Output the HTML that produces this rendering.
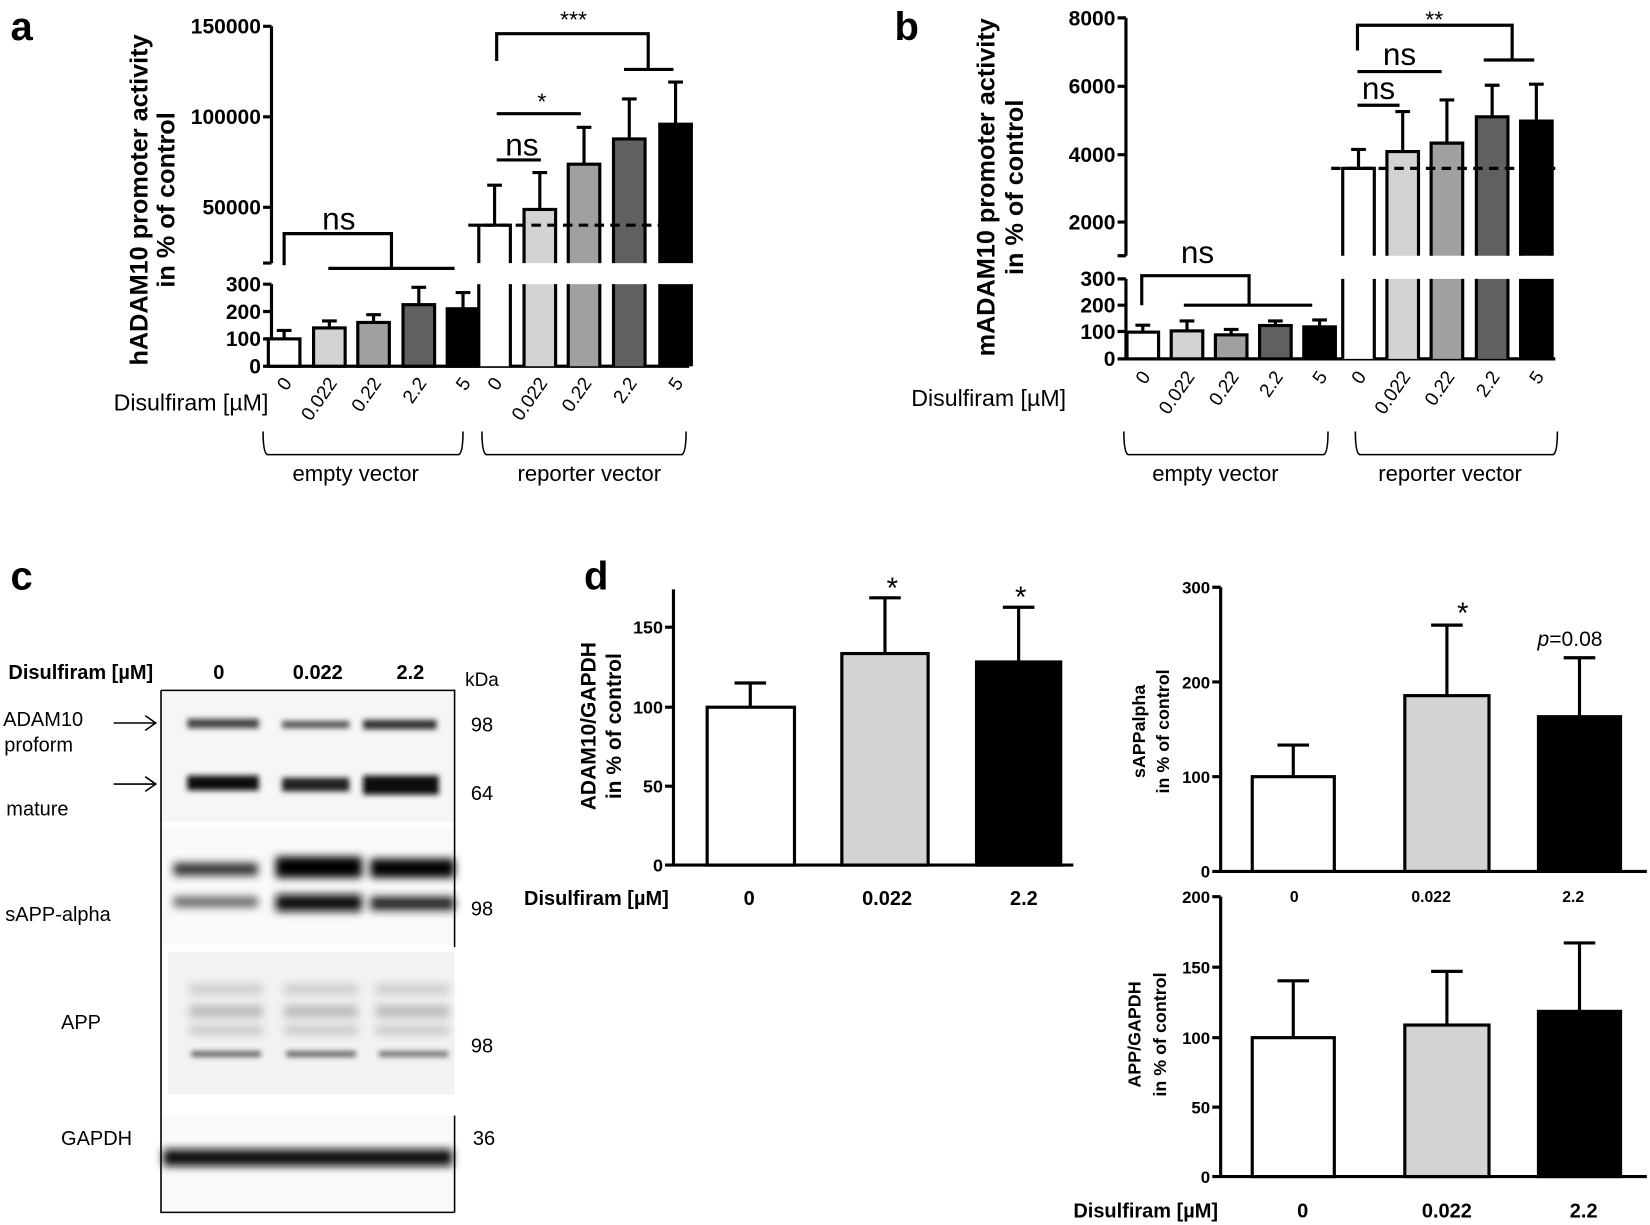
<!DOCTYPE html>
<html><head><meta charset="utf-8"><style>
html,body{margin:0;padding:0;background:#fff;}
svg{display:block;}
text{font-family:"Liberation Sans",sans-serif;fill:#000;}
</style></head><body>
<svg width="1650" height="1225" viewBox="0 0 1568 1164" preserveAspectRatio="none" xmlns="http://www.w3.org/2000/svg">
<defs>
<filter id="bl" x="-20%" y="-100%" width="140%" height="300%"><feGaussianBlur stdDeviation="4"/></filter>
<filter id="bl2" x="-20%" y="-100%" width="140%" height="300%"><feGaussianBlur stdDeviation="2.5"/></filter>
</defs>
<g stroke="#000" stroke-width="3" fill="none">
<path d="M258,25 V250 M250,25 H258 M250,111 H258 M250,197 H258 M250,250 H258"/>
<path d="M258,270 V348 H655 M250,270 H258 M250,296 H258 M250,322 H258 M250,348 H258"/>
<rect x="255" y="322" width="30" height="26" fill="#fff"/>
<rect x="298" y="311.6" width="30" height="36.4" fill="#d3d3d3"/>
<rect x="340" y="306.4" width="30" height="41.6" fill="#a0a0a0"/>
<rect x="383" y="289.5" width="30" height="58.5" fill="#606060"/>
<rect x="425" y="293.4" width="30" height="54.6" fill="#000"/>
<path d="M270,322 V314 M263,314 H277 M313,311 V305 M306,305 H320 M355,306 V299 M348,299 H362 M398,289 V273 M391,273 H405 M440,293 V278 M433,278 H447"/>
<path d="M455,250 V214 H485 V250" fill="#fff"/>
<path d="M498,250 V199 H528 V250" fill="#d3d3d3"/>
<path d="M540,250 V156 H570 V250" fill="#a0a0a0"/>
<path d="M583,250 V132 H613 V250" fill="#606060"/>
<path d="M627,250 V118 H657 V250" fill="#000"/>
<rect x="455" y="270" width="30" height="78" fill="#fff" stroke="none"/>
<rect x="498" y="270" width="30" height="78" fill="#d3d3d3" stroke="none"/>
<rect x="540" y="270" width="30" height="78" fill="#a0a0a0" stroke="none"/>
<rect x="583" y="270" width="30" height="78" fill="#606060" stroke="none"/>
<rect x="627" y="270" width="30" height="78" fill="#000" stroke="none"/>
<path d="M455,270 V348 M485,270 V348 M498,270 V348 M528,270 V348 M540,270 V348 M570,270 V348 M583,270 V348 M613,270 V348 M627,270 V348 M657,270 V348"/>
<path d="M470,214 V176 M463,176 H477 M513,199 V164 M506,164 H520 M555,156 V121 M548,121 H562 M598,132 V94 M591,94 H605 M642,118 V78 M635,78 H649"/>
<path d="M445,214 H655" stroke-dasharray="9,6"/>
<path d="M270,252 V222 H372 V255 M312,255 H432"/>
<path d="M472,58 V32 H616 V66 M593,66 H640"/>
<path d="M472,108 H552"/>
<path d="M472,152 H514"/>
<path d="M250,410 Q250,430 254,432 H436 Q440,430 440,410" stroke-width="1.5"/>
<path d="M458,410 Q458,430 462,432 H648 Q652,430 652,410" stroke-width="1.5"/>

<path d="M1070,17 V243 M1062,17 H1070 M1062,82 H1070 M1062,147 H1070 M1062,211 H1070 M1062,243 H1070"/>
<path d="M1070,265 V341 H1478 M1062,265 H1070 M1062,290 H1070 M1062,315 H1070 M1062,341 H1070"/>
<rect x="1071" y="315.6" width="30" height="25.4" fill="#fff"/>
<rect x="1113" y="314.4" width="30" height="26.6" fill="#d3d3d3"/>
<rect x="1155" y="318.2" width="30" height="22.8" fill="#a0a0a0"/>
<rect x="1197" y="309.3" width="30" height="31.7" fill="#606060"/>
<rect x="1239" y="310.6" width="30" height="30.4" fill="#000"/>
<path d="M1086,315 V309 M1079,309 H1093 M1128,314 V305 M1121,305 H1135 M1170,318 V313 M1163,313 H1177 M1212,309 V305 M1205,305 H1219 M1254,310 V304 M1247,304 H1261"/>
<path d="M1276,243 V160 H1306 V243" fill="#fff"/>
<path d="M1318,243 V144 H1348 V243" fill="#d3d3d3"/>
<path d="M1360,243 V136 H1390 V243" fill="#a0a0a0"/>
<path d="M1403,243 V111 H1433 V243" fill="#606060"/>
<path d="M1445,243 V115 H1475 V243" fill="#000"/>
<rect x="1276" y="265" width="30" height="76" fill="#fff" stroke="none"/>
<rect x="1318" y="265" width="30" height="76" fill="#d3d3d3" stroke="none"/>
<rect x="1360" y="265" width="30" height="76" fill="#a0a0a0" stroke="none"/>
<rect x="1403" y="265" width="30" height="76" fill="#606060" stroke="none"/>
<rect x="1445" y="265" width="30" height="76" fill="#000" stroke="none"/>
<path d="M1276,265 V341 M1306,265 V341 M1318,265 V341 M1348,265 V341 M1360,265 V341 M1390,265 V341 M1403,265 V341 M1433,265 V341 M1445,265 V341 M1475,265 V341"/>
<path d="M1291,160 V142 M1284,142 H1298 M1333,144 V106 M1326,106 H1340 M1375,136 V95 M1368,95 H1382 M1418,111 V81 M1411,81 H1425 M1460,115 V80 M1453,80 H1467"/>
<path d="M1265,160 H1478" stroke-dasharray="9,6"/>
<path d="M1085,290 V262 H1187 V290 M1125,290 H1247"/>
<path d="M1290,48 V24 H1437 V57 M1410,57 H1458"/>
<path d="M1290,68 H1370"/>
<path d="M1290,100 H1330"/>
<path d="M1068,410 Q1068,430 1072,432 H1258 Q1262,430 1262,410" stroke-width="1.5"/>
<path d="M1288,410 Q1288,430 1292,432 H1476 Q1480,430 1480,410" stroke-width="1.5"/>

<path d="M640,560 V822 H1020 M632,596 H640 M632,672 H640 M632,747 H640 M632,822 H640"/>
<rect x="672" y="672" width="83" height="150" fill="#fff"/>
<rect x="800" y="621" width="82" height="201" fill="#d3d3d3"/>
<rect x="928" y="629" width="80" height="193" fill="#000"/>
<path d="M713,672 V649 M698,649 H728 M841,621 V568 M826,568 H856 M968,629 V577 M953,577 H983"/>

<path d="M1160,558 V828 H1565 M1152,558 H1160 M1152,648 H1160 M1152,738 H1160 M1152,828 H1160"/>
<rect x="1190" y="738" width="78" height="90" fill="#fff"/>
<rect x="1335" y="661" width="80" height="167" fill="#d3d3d3"/>
<rect x="1462" y="681" width="78" height="147" fill="#000"/>
<path d="M1229,738 V708 M1214,708 H1244 M1375,661 V594 M1360,594 H1390 M1501,681 V625 M1486,625 H1516"/>

<path d="M1160,852 V1118 H1565 M1152,852 H1160 M1152,919 H1160 M1152,986 H1160 M1152,1052 H1160 M1152,1118 H1160"/>
<rect x="1190" y="986" width="78" height="132" fill="#fff"/>
<rect x="1335" y="974" width="80" height="144" fill="#d3d3d3"/>
<rect x="1462" y="961" width="78" height="157" fill="#000"/>
<path d="M1229,986 V932 M1214,932 H1244 M1375,974 V923 M1360,923 H1390 M1501,961 V896 M1486,896 H1516"/>
</g>

<text x="10" y="38" font-size="38" font-weight="bold">a</text>
<g font-size="20" font-weight="bold" text-anchor="end">
<text x="248" y="32">150000</text><text x="248" y="118">100000</text><text x="248" y="204">50000</text>
<text x="248" y="277">300</text><text x="248" y="303">200</text><text x="248" y="329">100</text><text x="248" y="355">0</text>
</g>
<text transform="translate(140,190) rotate(-90)" font-size="24" font-weight="bold" text-anchor="middle">hADAM10 promoter activity</text>
<text transform="translate(166,190) rotate(-90)" font-size="24" font-weight="bold" text-anchor="middle">in % of control</text>
<text x="322" y="218" font-size="30" text-anchor="middle">ns</text>
<text x="545" y="26" font-size="22" text-anchor="middle">***</text>
<text x="515" y="104" font-size="22" text-anchor="middle">*</text>
<text x="496" y="148" font-size="30" text-anchor="middle">ns</text>
<text x="108" y="390" font-size="22">Disulfiram [µM]</text>
<g font-size="18" text-anchor="end">
<text transform="translate(278,364) rotate(-55)">0</text>
<text transform="translate(321,364) rotate(-55)">0.022</text>
<text transform="translate(363,364) rotate(-55)">0.22</text>
<text transform="translate(406,364) rotate(-55)">2.2</text>
<text transform="translate(448,364) rotate(-55)">5</text>
<text transform="translate(478,364) rotate(-55)">0</text>
<text transform="translate(521,364) rotate(-55)">0.022</text>
<text transform="translate(563,364) rotate(-55)">0.22</text>
<text transform="translate(606,364) rotate(-55)">2.2</text>
<text transform="translate(650,364) rotate(-55)">5</text>
</g>
<text x="338" y="457" font-size="21" text-anchor="middle">empty vector</text>
<text x="560" y="457" font-size="21" text-anchor="middle">reporter vector</text>

<text x="850" y="38" font-size="38" font-weight="bold">b</text>
<g font-size="20" font-weight="bold" text-anchor="end">
<text x="1060" y="24">8000</text><text x="1060" y="89">6000</text><text x="1060" y="154">4000</text><text x="1060" y="218">2000</text>
<text x="1060" y="272">300</text><text x="1060" y="297">200</text><text x="1060" y="322">100</text><text x="1060" y="348">0</text>
</g>
<text transform="translate(945,178) rotate(-90)" font-size="24" font-weight="bold" text-anchor="middle">mADAM10 promoter activity</text>
<text transform="translate(972,178) rotate(-90)" font-size="24" font-weight="bold" text-anchor="middle">in % of control</text>
<text x="1138" y="250" font-size="30" text-anchor="middle">ns</text>
<text x="1363" y="26" font-size="22" text-anchor="middle">**</text>
<text x="1330" y="62" font-size="30" text-anchor="middle">ns</text>
<text x="1310" y="94" font-size="30" text-anchor="middle">ns</text>
<text x="866" y="386" font-size="22">Disulfiram [µM]</text>
<g font-size="18" text-anchor="end">
<text transform="translate(1094,358) rotate(-55)">0</text>
<text transform="translate(1136,358) rotate(-55)">0.022</text>
<text transform="translate(1178,358) rotate(-55)">0.22</text>
<text transform="translate(1220,358) rotate(-55)">2.2</text>
<text transform="translate(1262,358) rotate(-55)">5</text>
<text transform="translate(1299,358) rotate(-55)">0</text>
<text transform="translate(1341,358) rotate(-55)">0.022</text>
<text transform="translate(1383,358) rotate(-55)">0.22</text>
<text transform="translate(1426,358) rotate(-55)">2.2</text>
<text transform="translate(1468,358) rotate(-55)">5</text>
</g>
<text x="1155" y="457" font-size="21" text-anchor="middle">empty vector</text>
<text x="1378" y="457" font-size="21" text-anchor="middle">reporter vector</text>

<text x="10" y="560" font-size="38" font-weight="bold">c</text>
<text x="8" y="645" font-size="19" font-weight="bold">Disulfiram [µM]</text>
<text x="208" y="645" font-size="19" font-weight="bold" text-anchor="middle">0</text>
<text x="302" y="645" font-size="19" font-weight="bold" text-anchor="middle">0.022</text>
<text x="390" y="645" font-size="19" font-weight="bold" text-anchor="middle">2.2</text>
<text x="458" y="652" font-size="18" text-anchor="middle">kDa</text>
<g font-size="19">
<text x="3" y="690">ADAM10</text><text x="4" y="714">proform</text><text x="6" y="775">mature</text>
<text x="5" y="875">sAPP-alpha</text><text x="58" y="978">APP</text><text x="58" y="1088">GAPDH</text>
</g>
<g font-size="19" text-anchor="middle">
<text x="458" y="695">98</text><text x="458" y="760">64</text><text x="458" y="870">98</text><text x="458" y="1000">98</text><text x="460" y="1088">36</text>
</g>
<g stroke="#000" stroke-width="1.5" fill="none">
<path d="M108,687 H148 M138,680 L148,687 L138,694 M108,745 H148 M138,738 L148,745 L138,752"/>
</g>
<rect x="153" y="656" width="279" height="125" fill="#f6f6f6"/>
<rect x="153" y="786" width="279" height="112" fill="#fafafa"/>
<rect x="160" y="905" width="272" height="135" fill="#f2f2f2"/>
<rect x="153" y="1060" width="279" height="92" fill="#fafafa"/>
<g filter="url(#bl2)" fill="#333">
<rect x="178" y="683" width="68" height="9" fill="#444"/>
<rect x="268" y="685" width="64" height="7" fill="#555"/>
<rect x="345" y="684" width="70" height="9" fill="#333"/>
<rect x="178" y="737" width="68" height="14" fill="#111"/>
<rect x="268" y="739" width="64" height="13" fill="#222"/>
<rect x="345" y="737" width="72" height="18" fill="#111"/>
</g>
<g filter="url(#bl)">
<rect x="165" y="820" width="80" height="12" fill="#333"/>
<rect x="165" y="852" width="80" height="10" fill="#666"/>
<rect x="262" y="814" width="82" height="20" fill="#000"/>
<rect x="262" y="850" width="82" height="16" fill="#111"/>
<rect x="352" y="816" width="80" height="18" fill="#000"/>
<rect x="352" y="852" width="80" height="13" fill="#222"/>
<rect x="180" y="935" width="70" height="10" fill="#ccc"/>
<rect x="180" y="955" width="70" height="12" fill="#bbb"/>
<rect x="180" y="975" width="70" height="8" fill="#c4c4c4"/>
<rect x="270" y="935" width="70" height="10" fill="#ccc"/>
<rect x="270" y="955" width="70" height="12" fill="#bbb"/>
<rect x="270" y="975" width="70" height="8" fill="#c4c4c4"/>
<rect x="357" y="935" width="70" height="10" fill="#ccc"/>
<rect x="357" y="955" width="70" height="12" fill="#bbb"/>
<rect x="357" y="975" width="70" height="8" fill="#c4c4c4"/>
<rect x="155" y="1092" width="275" height="16" fill="#111"/>
</g>
<g filter="url(#bl2)">
<rect x="182" y="999" width="66" height="5" fill="#555"/>
<rect x="272" y="999" width="66" height="5" fill="#555"/>
<rect x="360" y="999" width="66" height="5" fill="#666"/>
</g>
<path d="M153,656 V1152 H432 M153,656 H432 V900 M432,1060 V1152" stroke="#000" stroke-width="1.5" fill="none"/>

<text x="555" y="560" font-size="38" font-weight="bold">d</text>
<g font-size="17" font-weight="bold" text-anchor="end">
<text x="630" y="602">150</text><text x="630" y="678">100</text><text x="630" y="753">50</text><text x="630" y="828">0</text>
</g>
<text transform="translate(566,690) rotate(-90)" font-size="20" font-weight="bold" text-anchor="middle">ADAM10/GAPDH</text>
<text transform="translate(590,690) rotate(-90)" font-size="20" font-weight="bold" text-anchor="middle">in % of control</text>
<text x="848" y="568" font-size="28" text-anchor="middle">*</text>
<text x="970" y="577" font-size="28" text-anchor="middle">*</text>
<text x="498" y="860" font-size="19" font-weight="bold">Disulfiram [µM]</text>
<g font-size="19" font-weight="bold" text-anchor="middle">
<text x="712" y="860">0</text><text x="843" y="860">0.022</text><text x="973" y="860">2.2</text>
</g>

<g font-size="16" font-weight="bold" text-anchor="end">
<text x="1150" y="564">300</text><text x="1150" y="654">200</text><text x="1150" y="744">100</text><text x="1150" y="834">0</text>
</g>
<text transform="translate(1088,695) rotate(-90)" font-size="17" font-weight="bold" text-anchor="middle">sAPPalpha</text>
<text transform="translate(1111,695) rotate(-90)" font-size="17" font-weight="bold" text-anchor="middle">in % of control</text>
<text x="1390" y="592" font-size="28" text-anchor="middle">*</text>
<text x="1492" y="614" font-size="20" text-anchor="middle"><tspan font-style="italic">p</tspan>=0.08</text>
<g font-size="15" font-weight="bold" text-anchor="middle">
<text x="1230" y="857">0</text><text x="1360" y="857">0.022</text><text x="1495" y="857">2.2</text>
</g>

<g font-size="16" font-weight="bold" text-anchor="end">
<text x="1150" y="858">200</text><text x="1150" y="925">150</text><text x="1150" y="992">100</text><text x="1150" y="1058">50</text><text x="1150" y="1124">0</text>
</g>
<text transform="translate(1084,983) rotate(-90)" font-size="17" font-weight="bold" text-anchor="middle">APP/GAPDH</text>
<text transform="translate(1108,983) rotate(-90)" font-size="17" font-weight="bold" text-anchor="middle">in % of control</text>
<text x="1020" y="1157" font-size="19" font-weight="bold">Disulfiram [µM]</text>
<g font-size="19" font-weight="bold" text-anchor="middle">
<text x="1238" y="1157">0</text><text x="1375" y="1157">0.022</text><text x="1505" y="1157">2.2</text>
</g>
</svg>
</body></html>
